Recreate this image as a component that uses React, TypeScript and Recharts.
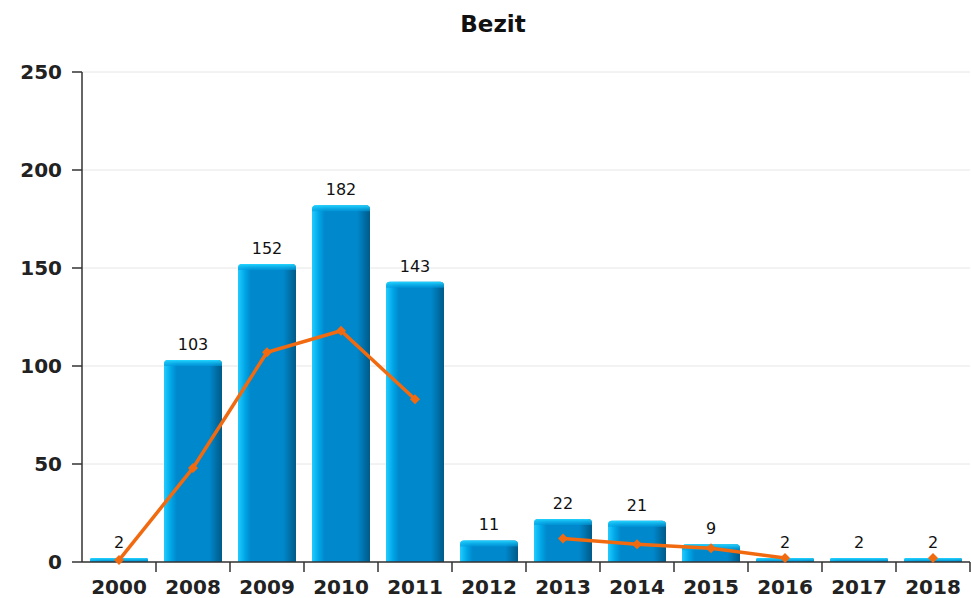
import React from 'react'
import {
    ComposedChart,
    Bar,
    Line,
    XAxis,
    YAxis,
    CartesianGrid,
    LabelList,
} from 'recharts'

const years = ['2000', '2008', '2009', '2010', '2011', '2012', '2013', '2014', '2015', '2016', '2017', '2018']
const bezit = [2, 103, 152, 182, 143, 11, 22, 21, 9, 2, 2, 2]
const trend: (number | null)[] = [1, 48, 107, 118, 83, null, 12, 9, 7, 2, null, 2]
const yTicks = [0, 50, 100, 150, 200, 250]

const data = years.map((year, i) => ({ year, bezit: bezit[i], trend: trend[i] }))

const W = 971
const H = 598
const margin = { top: 72, right: 1, bottom: 0, left: 0 }
const yAxisWidth = 82
const band = (W - yAxisWidth - margin.right) / years.length

const font = '"DejaVu Sans", Verdana, sans-serif'

function BarShape(props: any) {
    const { x, y, width, height } = props
    if (!height || height <= 0) return null
    const r = Math.min(4, height / 2)
    const cap = Math.min(6, height)
    return (
        <g>
            <path
                d={`M${x},${y + height} L${x},${y + r} Q${x},${y} ${x + r},${y} L${x + width - r},${y} Q${x + width},${y} ${x + width},${y + r} L${x + width},${y + height} Z`}
                fill="url(#barBody)"
            />
            <path
                d={`M${x},${y + cap} L${x},${y + r} Q${x},${y} ${x + r},${y} L${x + width - r},${y} Q${x + width},${y} ${x + width},${y + r} L${x + width},${y + cap} Z`}
                fill="url(#barCap)"
            />
        </g>
    )
}

function Diamond(props: any) {
    const { cx, cy, value } = props
    if (value == null || cx == null || cy == null) return null
    const s = 5
    return <path d={`M${cx},${cy - s} L${cx + s},${cy} L${cx},${cy + s} L${cx - s},${cy} Z`} fill="#f26a10" />
}

function XTick(props: any) {
    const { x, y, payload } = props
    return (
        <g>
            <line x1={x + band / 2} y1={y - 8} x2={x + band / 2} y2={y + 2} stroke="#333" strokeWidth={1.5} />
            <text x={x} y={y + 24} textAnchor="middle" fontFamily={font} fontWeight="bold" fontSize={20} fill="#222">
                {payload.value}
            </text>
        </g>
    )
}

export default function App() {
    return (
        <div style={{ position: 'relative', width: W, height: H, background: '#fff' }}>
            <style>{'body{margin:0}'}</style>
            <div
                style={{
                    position: 'absolute',
                    top: 11,
                    left: 0,
                    width: 986,
                    textAlign: 'center',
                    fontFamily: font,
                    fontWeight: 'bold',
                    fontSize: 23,
                    lineHeight: 'normal',
                    color: '#111',
                }}
            >
                Bezit
            </div>
            <ComposedChart width={W} height={H} data={data} margin={margin} barCategoryGap={8}>
                <defs>
                    <linearGradient id="barBody" x1="0" y1="0" x2="1" y2="0">
                        <stop offset="0%" stopColor="#22ccff" />
                        <stop offset="12%" stopColor="#00a6e6" />
                        <stop offset="22%" stopColor="#0088cc" />
                        <stop offset="78%" stopColor="#0088cc" />
                        <stop offset="100%" stopColor="#005a88" />
                    </linearGradient>
                    <linearGradient id="barCap" x1="0" y1="0" x2="0" y2="1">
                        <stop offset="0%" stopColor="#22d4ff" />
                        <stop offset="100%" stopColor="#0099dd" stopOpacity={0.6} />
                    </linearGradient>
                </defs>
                <CartesianGrid vertical={false} stroke="#e6e6e6" />
                <XAxis
                    dataKey="year"
                    height={36}
                    stroke="#333"
                    strokeWidth={1.5}
                    tickLine={false}
                    tick={<XTick />}
                    interval={0}
                />
                <YAxis
                    width={yAxisWidth}
                    domain={[0, 250]}
                    ticks={yTicks}
                    stroke="#333"
                    strokeWidth={1.5}
                    tickSize={10}
                    tick={{ fontFamily: font, fontWeight: 'bold', fontSize: 20, fill: '#222' }}
                    tickMargin={10}
                />
                <Bar dataKey="bezit" shape={<BarShape />} isAnimationActive={false}>
                    <LabelList dataKey="bezit" position="top" offset={10} fontFamily={font} fontSize={16} fill="#111" />
                </Bar>
                <Line
                    dataKey="trend"
                    stroke="#f26a10"
                    strokeWidth={3.5}
                    dot={<Diamond />}
                    activeDot={false}
                    connectNulls={false}
                    isAnimationActive={false}
                />
            </ComposedChart>
        </div>
    )
}
